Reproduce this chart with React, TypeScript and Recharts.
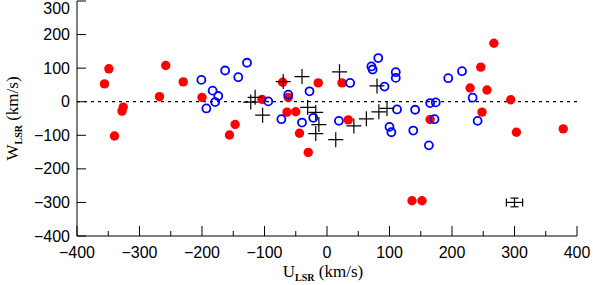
import React from 'react';
import { ScatterChart, Scatter, XAxis, YAxis, ReferenceLine, ErrorBar, Label } from 'recharts';

// red filled circles
const redU = [-356, -349, -326, -328, -340, -268, -258, -230, -200, -147, -156, -104, -71, -62, -64, -50, -44, -30, -14, 24, 34, 165, 267, 246, 229, 256, 294, 248, 303, 378, 136, 152];
const redW = [53, 98, -16, -28, -102, 15, 108, 59, 13, -68, -99, 7, 58, 13, -31, -30, -94, -151, 56, 56, -54, -53, 174, 103, 41, 35, 6, -31, -91, -81, -295, -295];

// blue open circles
const blueU = [-201, -183, -174, -179, -193, -163, -142, -128, -94, -62, -28, -73, -40, -22, 19, 37, 71, 73, 82, 110, 110, 92, 112, 100, 103, 141, 138, 165, 174, 172, 163, 194, 216, 233, 241];
const blueW = [65, 33, 17, -1, -20, 93, 73, 116, 1, 21, 31, -52, -62, -48, -57, 56, 105, 96, 130, 88, 71, 45, -23, -75, -91, -24, -86, -4, -2, -52, -130, 70, 91, 12, -57];

// black crosses
const crossU = [-115, -122, -103, -70, -40, 20, 80, -31, -18, -13, -18, 14, 43, 63, 83, 96];
const crossW = [13, -1, -40, 60, 75, 89, 47, -17, -32, -68, -95, -113, -72, -51, -30, -20];

// typical error bar
const errU = [300];
const errW = [-300];
const errDU = [13];
const errDW = [13];

const xTicks = [-400, -350, -300, -250, -200, -150, -100, -50, 0, 50, 100, 150, 200, 250, 300, 350, 400];
const yTicks = [-400, -300, -200, -100, 0, 100, 200, 300];

const redData = redU.map((u, i) => ({ u, w: redW[i] }));
const blueData = blueU.map((u, i) => ({ u, w: blueW[i] }));
const crossData = crossU.map((u, i) => ({ u, w: crossW[i] }));
const errData = errU.map((u, i) => ({ u, w: errW[i], du: errDU[i], dw: errDW[i] }));

const TICK_FONT = 'Liberation Sans, Arial, sans-serif';
const TITLE_FONT = 'Liberation Serif, Times New Roman, serif';

const fmt = (v: number) => (v < 0 ? '\u2212' + Math.abs(v) : String(v));

const BottomTick = (props: any) => {
  const { x, y, payload } = props;
  const major = payload.value % 100 === 0;
  return (
    <g>
      <line x1={x} x2={x} y1={y} y2={y - (major ? 10 : 5)} stroke="#000" />
      {major && (
        <text x={x} y={y + 22} textAnchor="middle" fontFamily={TICK_FONT} fontSize={16} fill="#000">
          {fmt(payload.value)}
        </text>
      )}
    </g>
  );
};

const TopTick = (props: any) => {
  const { x, y, payload } = props;
  const major = payload.value % 100 === 0;
  return <line x1={x} x2={x} y1={y} y2={y + (major ? 10 : 5)} stroke="#000" />;
};

const LeftTick = (props: any) => {
  const { x, y, payload } = props;
  const ty = Math.max(y, 8);
  return (
    <g>
      <line x1={x} x2={x + 9} y1={y} y2={y} stroke="#000" />
      <text x={x - 7} y={ty + 5.5} textAnchor="end" fontFamily={TICK_FONT} fontSize={16} fill="#000">
        {fmt(payload.value)}
      </text>
    </g>
  );
};

const RightTick = (props: any) => {
  const { x, y } = props;
  return <line x1={x} x2={x - 9} y1={y} y2={y} stroke="#000" />;
};

const XTitle = ({ viewBox }: any) => (
  <text x={viewBox.x + viewBox.width / 2 - 4} y={viewBox.y + 41} textAnchor="middle" fontFamily={TITLE_FONT} fontSize={17} fill="#000">
    U<tspan fontSize={10} fontWeight="bold" dy={4}>LSR</tspan>
    <tspan dy={-4}> (km/s)</tspan>
  </text>
);

const YTitle = ({ viewBox }: any) => {
  const cx = 18;
  const cy = viewBox.y + viewBox.height / 2;
  return (
    <text x={cx} y={cy} transform={`rotate(-90, ${cx}, ${cy})`} textAnchor="middle" fontFamily={TITLE_FONT} fontSize={17} fill="#000">
      W<tspan fontSize={10} fontWeight="bold" dy={4}>LSR</tspan>
      <tspan dy={-4}> (km/s)</tspan>
    </text>
  );
};

const RedDot = (p: any) => <circle cx={p.cx} cy={p.cy} r={4.7} fill="#ff0000" />;
const BlueRing = (p: any) => <circle cx={p.cx} cy={p.cy} r={4} fill="none" stroke="#0000ff" strokeWidth={1.8} />;
const Cross = (p: any) => (
  <path d={`M${p.cx - 7.5},${p.cy}H${p.cx + 7.5}M${p.cx},${p.cy - 7.5}V${p.cy + 7.5}`} stroke="#000" strokeWidth={1.2} />
);
const Nothing = () => <g />;

export default function App() {
  return (
    <div style={{ position: 'absolute', left: 0, top: 0, background: '#fff' }}>
      <ScatterChart width={593} height={285} margin={{ top: 1, right: 16, bottom: 0, left: 0 }}>
        <XAxis
          xAxisId="b"
          type="number"
          dataKey="u"
          domain={[-400, 400]}
          ticks={xTicks}
          interval={0}
          allowDataOverflow
          height={49}
          tickSize={0}
          tickMargin={0}
          tickLine={false}
          axisLine={{ stroke: '#000' }}
          tick={<BottomTick />}
        >
          <Label content={<XTitle />} />
        </XAxis>
        <XAxis
          xAxisId="t"
          orientation="top"
          type="number"
          dataKey="u"
          domain={[-400, 400]}
          ticks={xTicks}
          interval={0}
          allowDataOverflow
          height={0}
          tickSize={0}
          tickMargin={0}
          tickLine={false}
          axisLine={{ stroke: '#000' }}
          tick={<TopTick />}
        />
        <YAxis
          yAxisId="l"
          type="number"
          dataKey="w"
          domain={[-400, 300]}
          ticks={yTicks}
          interval={0}
          allowDataOverflow
          width={77}
          tickSize={0}
          tickMargin={0}
          tickLine={false}
          axisLine={{ stroke: '#000' }}
          tick={<LeftTick />}
        >
          <Label content={<YTitle />} />
        </YAxis>
        <YAxis
          yAxisId="r"
          orientation="right"
          type="number"
          dataKey="w"
          domain={[-400, 300]}
          ticks={yTicks}
          interval={0}
          allowDataOverflow
          width={0}
          tickSize={0}
          tickMargin={0}
          tickLine={false}
          axisLine={{ stroke: '#000' }}
          tick={<RightTick />}
        />
        <ReferenceLine xAxisId="b" yAxisId="l" y={0} stroke="#000" strokeWidth={1.2} strokeDasharray="3 4" />
        <Scatter xAxisId="b" yAxisId="l" data={redData} shape={<RedDot />} isAnimationActive={false} />
        <Scatter xAxisId="b" yAxisId="l" data={blueData} shape={<BlueRing />} isAnimationActive={false} />
        <Scatter xAxisId="b" yAxisId="l" data={crossData} shape={<Cross />} isAnimationActive={false} />
        <Scatter xAxisId="t" yAxisId="r" data={errData} shape={<Nothing />} isAnimationActive={false}>
          <ErrorBar dataKey="du" direction="x" width={4} stroke="#000" strokeWidth={1.2} />
          <ErrorBar dataKey="dw" direction="y" width={4} stroke="#000" strokeWidth={1.2} />
        </Scatter>
      </ScatterChart>
    </div>
  );
}
